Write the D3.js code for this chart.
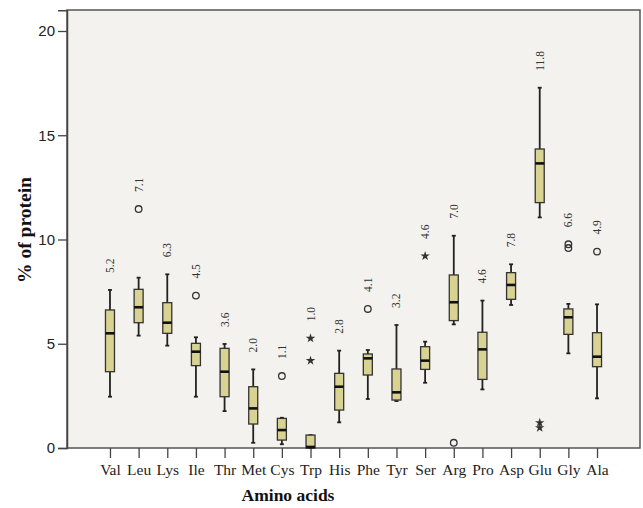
<!DOCTYPE html>
<html><head><meta charset="utf-8">
<script src="https://cdn.jsdelivr.net/npm/d3@7"></script>
<style>body{margin:0;background:#fff;} svg{display:block;}</style>
</head><body>
<svg id="c" width="643" height="508"></svg>
<script>
const categories = ["Val","Leu","Lys","Ile","Thr","Met","Cys","Trp","His","Phe","Tyr","Ser","Arg","Pro","Asp","Glu","Gly","Ala"];
const whiskerLow  = [2.46,5.39,4.91,2.46,1.77,0.25,0.18,0.0,1.23,2.35,2.25,3.13,5.93,2.81,6.86,11.06,4.54,2.38];
const q1          = [3.66,6.01,5.50,3.95,2.46,1.15,0.38,0.0,1.82,3.50,2.30,3.77,6.11,3.29,7.13,11.77,5.45,3.90];
const medians     = [5.50,6.75,6.01,4.62,3.66,1.90,0.86,0.05,2.94,4.30,2.67,4.19,6.99,4.73,7.82,13.65,6.27,4.38];
const q3          = [6.62,7.61,6.97,5.02,4.78,2.94,1.42,0.62,3.58,4.51,3.79,4.86,8.30,5.55,8.41,14.34,6.67,5.53];
const whiskerHigh = [7.58,8.17,8.33,5.31,4.99,3.77,1.45,0.62,4.67,4.70,5.90,5.10,10.18,7.07,8.81,17.28,6.91,6.89];
const meanLabels  = ["5.2","7.1","6.3","4.5","3.6","2.0","1.1","1.0","2.8","4.1","3.2","4.6","7.0","4.6","7.8","11.8","6.6","4.9"];
const circleOutliers = [["Leu",11.46],["Ile",7.31],["Cys",3.45],["Phe",6.67],["Arg",0.25],["Gly",9.77],["Gly",9.59],["Ala",9.42]];
const starOutliers   = [["Trp",5.26],["Trp",4.19],["Ser",9.21],["Glu",1.21],["Glu",0.97]];
const yTicks = [0,5,10,15,20];

const svg = d3.select("#c");
const L=67, R=640, T=10, B=448;
const x = d3.scalePoint().domain(categories).range([L,R]).padding(1.5);
const y = d3.scaleLinear().domain([0,21]).range([B,B-21*20.85]);

svg.append("rect").attr("x",L).attr("y",T).attr("width",R-L).attr("height",B-T)
  .attr("fill","#f4f2ee").attr("stroke","#555").attr("stroke-width",1.5);

// y axis
const ya = svg.append("g").attr("transform",`translate(${L},0)`)
  .call(d3.axisLeft(y).tickValues(yTicks).tickSize(9).tickPadding(3).tickFormat(d3.format("d")));
ya.select(".domain").attr("stroke","#444").attr("stroke-width",1.5);
ya.selectAll(".tick line").attr("stroke","#444").attr("stroke-width",1.3);
ya.selectAll(".tick text").attr("font-family","Liberation Sans, Arial, sans-serif").attr("font-size",15).attr("fill","#222");

// x axis
const xa = svg.append("g").attr("transform",`translate(0,${B})`)
  .call(d3.axisBottom(x).tickSize(10).tickPadding(6).tickSizeOuter(0));
xa.select(".domain").remove();
xa.selectAll(".tick line").attr("stroke","#444").attr("stroke-width",1.3);
xa.selectAll(".tick text").attr("font-family","Liberation Serif, Times New Roman, serif").attr("font-size",15.5).attr("fill","#222");

svg.append("text").attr("x",288).attr("y",501).attr("text-anchor","middle")
  .attr("font-family","Liberation Serif, Times New Roman, serif").attr("font-weight","bold").attr("font-size",17.5).attr("fill","#111")
  .text("Amino acids");
svg.append("text").attr("transform","translate(31,230) rotate(-90)").attr("text-anchor","middle")
  .attr("font-family","Liberation Serif, Times New Roman, serif").attr("font-weight","bold").attr("font-size",19.5).attr("fill","#111")
  .text("% of protein");

const bw = 9, cap = 3;
const g = svg.append("g");
categories.forEach((c,i)=>{
  const cx = x(c);
  g.append("line").attr("x1",cx).attr("x2",cx).attr("y1",y(whiskerHigh[i])).attr("y2",y(q3[i])).attr("stroke","#222").attr("stroke-width",1.8);
  g.append("line").attr("x1",cx).attr("x2",cx).attr("y1",y(q1[i])).attr("y2",y(whiskerLow[i])).attr("stroke","#222").attr("stroke-width",1.8);
  g.append("line").attr("x1",cx-cap/2-0.5).attr("x2",cx+cap/2+0.5).attr("y1",y(whiskerHigh[i])).attr("y2",y(whiskerHigh[i])).attr("stroke","#222").attr("stroke-width",1.8);
  g.append("line").attr("x1",cx-cap/2-0.5).attr("x2",cx+cap/2+0.5).attr("y1",y(whiskerLow[i])).attr("y2",y(whiskerLow[i])).attr("stroke","#222").attr("stroke-width",1.8);
  g.append("rect").attr("x",cx-bw/2).attr("width",bw).attr("y",y(q3[i])).attr("height",Math.max(0.5,y(q1[i])-y(q3[i])))
    .attr("fill","#d8d293").attr("stroke","#333").attr("stroke-width",1.3);
  g.append("line").attr("x1",cx-bw/2).attr("x2",cx+bw/2).attr("y1",y(medians[i])).attr("y2",y(medians[i])).attr("stroke","#111").attr("stroke-width",2.6);
  let top = whiskerHigh[i];
  circleOutliers.forEach(o=>{ if(o[0]===c) top=Math.max(top,o[1]); });
  starOutliers.forEach(o=>{ if(o[0]===c) top=Math.max(top,o[1]); });
  g.append("text").attr("transform",`translate(${cx+4},${y(top)-17}) rotate(-90)`)
    .attr("text-anchor","start").attr("font-family","Liberation Serif, Times New Roman, serif").attr("font-size",11.5).attr("fill","#333")
    .text(meanLabels[i]);
});

circleOutliers.forEach(o=>{
  g.append("circle").attr("cx",x(o[0])).attr("cy",y(o[1])).attr("r",3.3).attr("fill","none").attr("stroke","#333").attr("stroke-width",1.3);
});
const star = d3.symbol().type(d3.symbolStar).size(28);
starOutliers.forEach(o=>{
  g.append("path").attr("d",star()).attr("transform",`translate(${x(o[0])},${y(o[1])})`).attr("fill","#333");
});
</script>
</body></html>
